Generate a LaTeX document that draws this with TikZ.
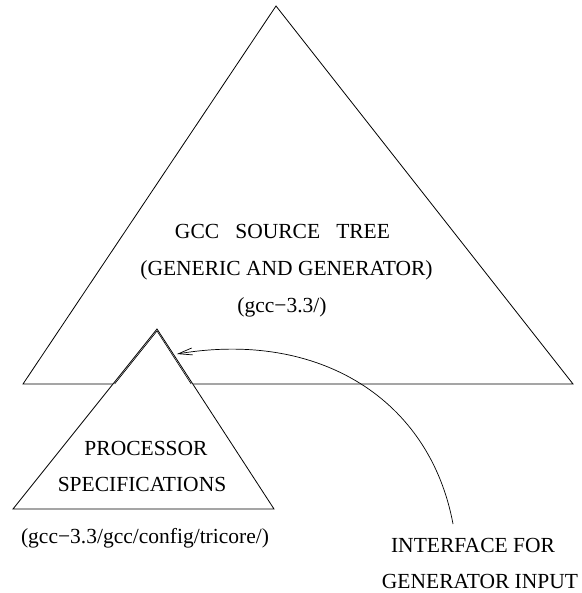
\documentclass[tikz,border=0pt]{standalone}
\usepackage{fontspec}
\setmainfont{Liberation Serif}
\usetikzlibrary{arrows.meta}
\begin{document}
\begin{tikzpicture}[x=1pt,y=-1pt,
  edge/.style={line width=0.8pt,line join=miter},
  lbl/.style={font=\fontsize{21.5}{26}\selectfont,inner sep=0pt,anchor=base}]
\useasboundingbox (0,0) rectangle (581,593);
% big triangle
\coordinate (bigTop) at (276,6);
\coordinate (bigL) at (23,384);
\coordinate (bigR) at (573,384);
\draw[edge] (bigL) -- (bigTop) -- (bigR) -- cycle;
% small triangle (filled white, covering the big base)
\coordinate (smTop) at (157,329);
\coordinate (smL) at (13,509);
\coordinate (smR) at (274,509);
\filldraw[edge,fill=white] (smL) -- (smTop) -- (smR) -- cycle;
% doubled edge near the apex
\draw[line width=0.6pt] (114.6,384) -- (157,331) -- (191.2,384);
% labels
\node[lbl] (t1) at (282.5,239) {GCC\ \ \ SOURCE\ \ \ TREE};
\node[lbl] (t2) at (286.5,275) {(GENERIC AND GENERATOR)};
\node[lbl] (t3) at (282,312) {(gcc−3.3/)};
\node[lbl] (p1) at (146,455) {PROCESSOR};
\node[lbl] (p2) at (142,491) {SPECIFICATIONS};
\node[lbl] (p3) at (145,543) {(gcc−3.3/gcc/config/tricore/)};
\node[lbl] (i1) at (473,552) {INTERFACE FOR};
\node[lbl] (i2) at (480,588) {GENERATOR INPUT};
% connector
\coordinate (arcStart) at (453,524);
\coordinate (arcEnd) at (177,354);
\draw[line width=0.7pt,-{Straight Barb[length=14pt,width=7pt]}] (arcStart) .. controls (430,400) and (320,330) .. (arcEnd);
\end{tikzpicture}
\end{document}
